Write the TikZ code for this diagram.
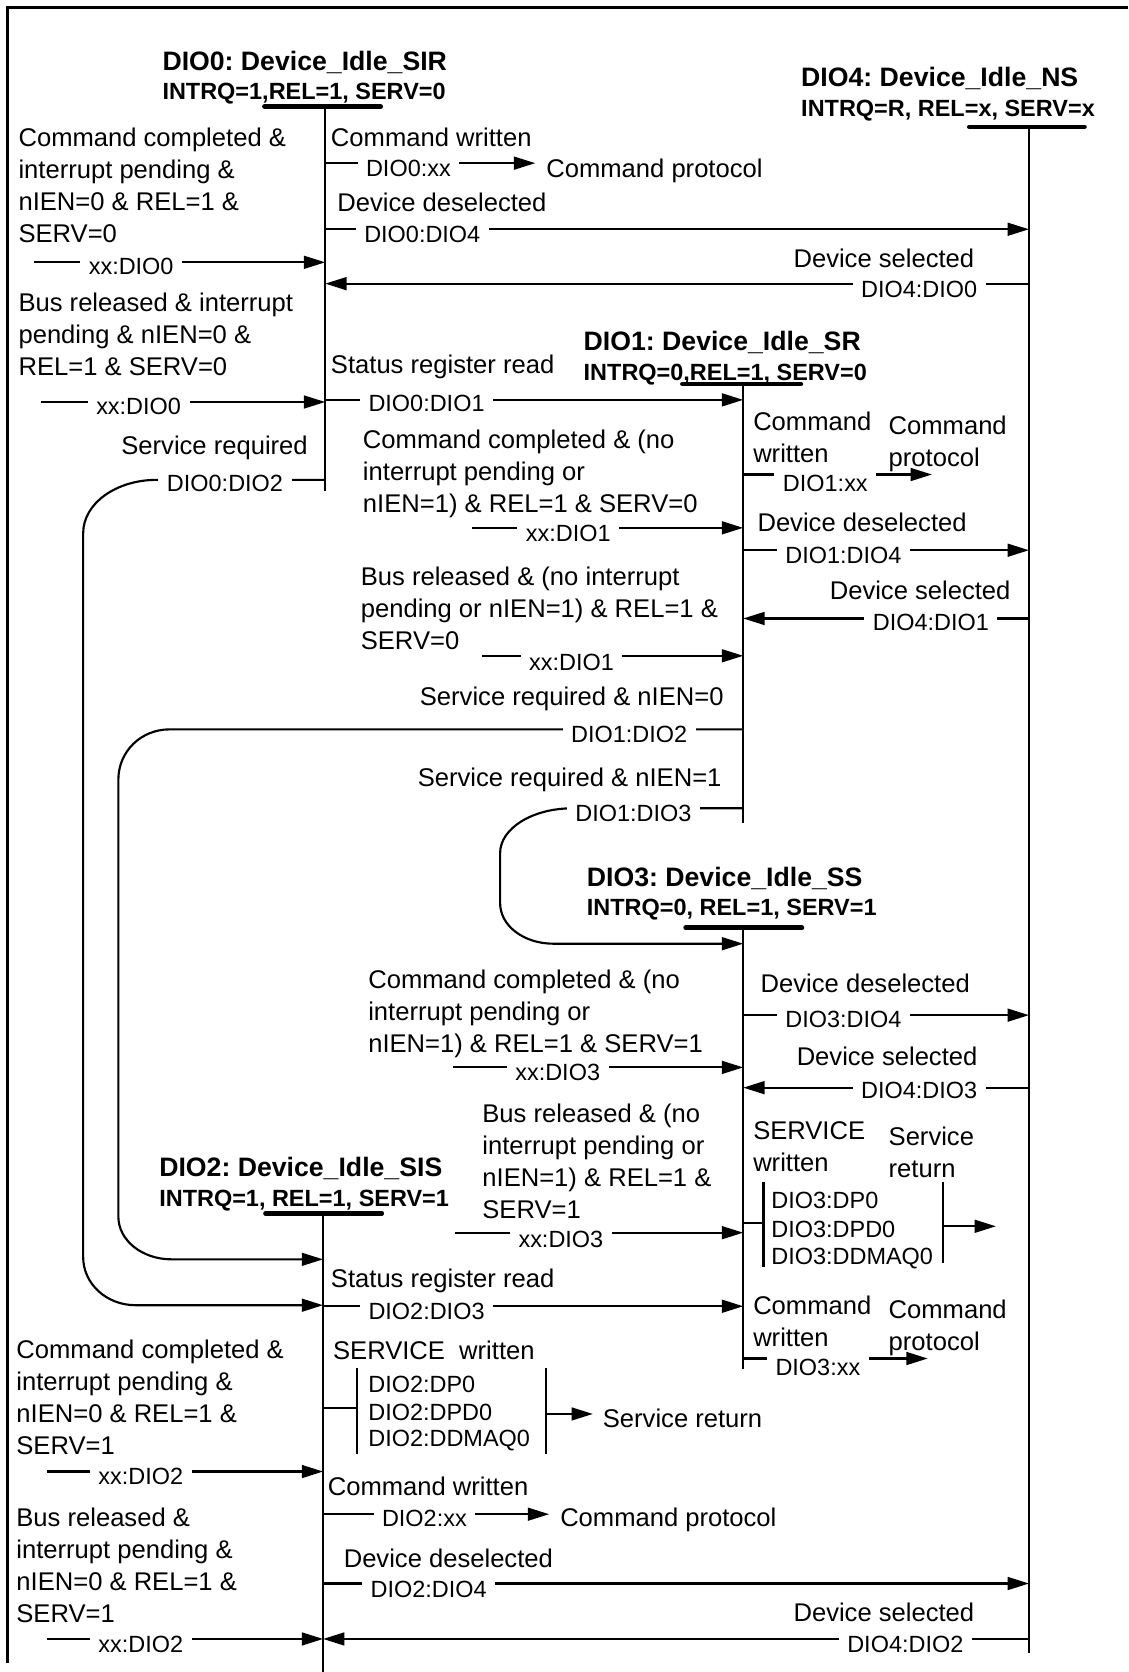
\documentclass[tikz,border=0pt]{standalone}
\usepackage{fontspec}
\setmainfont{Liberation Sans}
\usetikzlibrary{arrows.meta}
\frenchspacing

\tikzset{
  txt/.style={font=\fontsize{12}{15}\selectfont, inner sep=0pt, align=left},
  ttl/.style={font=\bfseries\fontsize{12.5}{15}\selectfont, inner sep=0pt, anchor=base west},
  cnd/.style={font=\bfseries\fontsize{11}{13}\selectfont, inner sep=0pt, anchor=base west},
  lbl/.style={font=\fontsize{11}{13}\selectfont, fill=white, inner xsep=4pt, inner ysep=2pt},
  sub/.style={font=\fontsize{11}{13}\selectfont, inner sep=0pt, anchor=west},
  life/.style={line width=1.15pt},
  bar/.style={line width=2.2pt, line cap=round},
  msg/.style={line width=1pt},
}

\begin{document}
\begin{tikzpicture}[>={Triangle[length=10pt,width=6pt]}, x=0.5pt, y=-0.5pt]
\useasboundingbox (0,0) rectangle (1058,1568);

% --- frame ---------------------------------------------------------
\draw[life] (7,1560) -- (7,7) -- (1058,7);

% === states =======================================================
% DIO0
\node[ttl] (h0) at (152,66) {DIO0: Device\_Idle\_SIR};
\node[cnd] (c0) at (152,93) {INTRQ=1,REL=1, SERV=0};
\draw[bar] (248,100) -- (357,100);
\coordinate (d0) at (305,100);
\draw[life] (d0) -- (305,460);

% DIO4
\node[ttl] (h4) at (751,81) {DIO4: Device\_Idle\_NS};
\node[cnd] (c4) at (751,109) {INTRQ=R, REL=x, SERV=x};
\draw[bar] (909,119) -- (1017,119);
\coordinate (d4) at (965,119);
\draw[life] (d4) -- (965,1550);

% DIO1
\node[ttl] (h1) at (547,329) {DIO1: Device\_Idle\_SR};
\node[cnd] (c1) at (547,357) {INTRQ=0,REL=1, SERV=0};
\draw[bar] (640,360) -- (751,360);
\coordinate (d1) at (697,360);
\draw[life] (d1) -- (697,772);

% DIO3
\node[ttl] (h3) at (550,831) {DIO3: Device\_Idle\_SS};
\node[cnd] (c3) at (550,859) {INTRQ=0, REL=1, SERV=1};
\draw[bar] (643,870) -- (752,870);
\coordinate (d3) at (697,870);
\draw[life] (d3) -- (697,1284);

% DIO2
\node[ttl] (h2) at (149,1103) {DIO2: Device\_Idle\_SIS};
\node[cnd] (c2) at (149,1131) {INTRQ=1, REL=1, SERV=1};
\draw[bar] (249,1138) -- (358,1138);
\coordinate (d2) at (303,1138);
\draw[life] (d2) -- (303,1568);

% === transitions of DIO0 ==========================================
\node[txt, anchor=north west] (t01) at (17,120) {Command completed \&\\interrupt pending \&\\nIEN=0 \& REL=1 \&\\SERV=0};
\draw[msg,->] (32,246) coordinate (f1) -- (f1 -| d0);
\node[lbl] (l01) at (123,250) {xx:DIO0};

\node[txt, anchor=north west] (t02) at (17,274) {Bus released \& interrupt\\pending \& nIEN=0 \&\\REL=1 \& SERV=0};
\draw[msg,->] (38,377) coordinate (f2) -- (f2 -| d0);
\node[lbl] (l02) at (130,381) {xx:DIO0};

\node[txt, anchor=base west] (t03) at (310,137) {Command written};
\draw[msg,->] (d0 |- 0,153) -- (502,153) coordinate (p0);
\node[lbl] (l03) at (383,158) {DIO0:xx};
\node[txt, anchor=base west] (t04) at (512,166) {Command protocol};

\node[txt, anchor=base west] (t05) at (316,198) {Device deselected};
\draw[msg,->] (d0 |- 0,215) -- (d4 |- 0,215);
\node[lbl] (l04) at (396,220) {DIO0:DIO4};

\node[txt, anchor=base east] (t06) at (914,251) {Device selected};
\draw[msg,->] (d4 |- 0,266) -- (d0 |- 0,266);
\node[lbl] (l05) at (862,271) {DIO4:DIO0};

\node[txt, anchor=base west] (t07) at (310,350) {Status register read};
\draw[msg,->] (d0 |- 0,375) -- (d1 |- 0,375);
\node[lbl] (l06) at (400,378) {DIO0:DIO1};

\node[txt, anchor=base east] (t08) at (289,426) {Service required};
\draw[msg,->] (d0 |- 0,450) -- (147,450) .. controls (109,450) and (78,472) .. (78,500)
  -- (78,1179) .. controls (78,1204) and (100,1224) .. (127,1224) -- (d2 |- 0,1224);
\node[lbl] (l07) at (211,453) {DIO0:DIO2};

% === transitions of DIO1 ==========================================
\node[txt, anchor=north west] (t11) at (340,403) {Command completed \& (no\\interrupt pending or\\nIEN=1) \& REL=1 \& SERV=0};
\draw[msg,->] (443,495) coordinate (f3) -- (f3 -| d1);
\node[lbl] (l11) at (533,500) {xx:DIO1};

\node[txt, anchor=north west] (t12) at (338,531) {Bus released \& (no interrupt\\pending or nIEN=1) \& REL=1 \&\\SERV=0};
\draw[msg,->] (452,615) coordinate (f4) -- (f4 -| d1);
\node[lbl] (l12) at (536,621) {xx:DIO1};

\node[txt, anchor=base east] (t13) at (679,662) {Service required \& nIEN=0};
\draw[msg,->] (d1 |- 0,684) -- (159,684) .. controls (132,684) and (111,705) .. (111,731)
  -- (111,1141) .. controls (111,1163) and (133,1181) .. (161,1181) -- (d2 |- 0,1181);
\node[lbl] (l13) at (590,689) {DIO1:DIO2};

\node[txt, anchor=base east] (t14) at (677,738) {Service required \& nIEN=1};
\draw[msg,->] (d1 |- 0,758) -- (537,758) .. controls (499,758) and (469,777) .. (469,800)
  -- (469,847) .. controls (469,868) and (491,885) .. (519,885) -- (d3 |- 0,885);
\node[lbl] (l14) at (594,763) {DIO1:DIO3};

\node[txt, anchor=north west] (t15) at (706,386) {Command\\written};
\node[txt, anchor=north west] (t16) at (833,390) {Command\\protocol};
\draw[msg,->] (d1 |- 0,445) -- (874,445) coordinate (p1);
\node[lbl] (l15) at (774,453) {DIO1:xx};

\node[txt, anchor=base west] (t17) at (710,498) {Device deselected};
\draw[msg,->] (d1 |- 0,516) -- (d4 |- 0,516);
\node[lbl] (l16) at (791,521) {DIO1:DIO4};

\node[txt, anchor=base east] (t18) at (948,562) {Device selected};
\draw[msg,->] (d4 |- 0,580) -- (d1 |- 0,580);
\node[lbl] (l17) at (873,584) {DIO4:DIO1};

% === transitions of DIO3 ==========================================
\node[txt, anchor=north west] (t31) at (345,909) {Command completed \& (no\\interrupt pending or\\nIEN=1) \& REL=1 \& SERV=1};
\draw[msg,->] (425,1001) coordinate (f5) -- (f5 -| d3);
\node[lbl] (l31) at (523,1006) {xx:DIO3};

\node[txt, anchor=north west] (t32) at (452,1035) {Bus released \& (no\\interrupt pending or\\nIEN=1) \& REL=1 \&\\SERV=1};
\draw[msg,->] (427,1156) coordinate (f6) -- (f6 -| d3);
\node[lbl] (l32) at (526,1162) {xx:DIO3};

\node[txt, anchor=base west] (t33) at (713,931) {Device deselected};
\draw[msg,->] (d3 |- 0,952) -- (d4 |- 0,952);
\node[lbl] (l33) at (791,956) {DIO3:DIO4};

\node[txt, anchor=base east] (t34) at (917,999) {Device selected};
\draw[msg,->] (d4 |- 0,1020) -- (d3 |- 0,1020);
\node[lbl] (l34) at (862,1023) {DIO4:DIO3};

\node[txt, anchor=north west] (t35) at (706,1051) {SERVICE\\written};
\node[txt, anchor=north west] (t36) at (833,1056) {Service\\return};
\draw[msg] (d3 |- 0,1147) -- (716,1147);
\draw[msg] (716,1108) -- (716,1188);
\node[sub] (s31) at (723,1126) {DIO3:DP0};
\node[sub] (s32) at (723,1153) {DIO3:DPD0};
\node[sub] (s33) at (723,1180) {DIO3:DDMAQ0};
\draw[msg] (884,1108) -- (884,1184);
\draw[msg,->] (884,1150) -- (934,1150);

\node[txt, anchor=north west] (t37) at (706,1215) {Command\\written};
\node[txt, anchor=north west] (t38) at (833,1219) {Command\\protocol};
\draw[msg,->] (d3 |- 0,1274) -- (870,1274) coordinate (p3);
\node[lbl] (l35) at (767,1282) {DIO3:xx};

% === transitions of DIO2 ==========================================
\node[txt, anchor=north west] (t21) at (15,1256) {Command completed \&\\interrupt pending \&\\nIEN=0 \& REL=1 \&\\SERV=1};
\draw[msg,->] (44,1380) coordinate (f7) -- (f7 -| d2);
\node[lbl] (l21) at (132,1385) {xx:DIO2};

\node[txt, anchor=north west] (t22) at (15,1414) {Bus released \&\\interrupt pending \&\\nIEN=0 \& REL=1 \&\\SERV=1};
\draw[msg,->] (44,1537) coordinate (f8) -- (f8 -| d2);
\node[lbl] (l22) at (132,1542) {xx:DIO2};

\node[txt, anchor=base west] (t23) at (310,1207) {Status register read};
\draw[msg,->] (d2 |- 0,1225) -- (d3 |- 0,1225);
\node[lbl] (l23) at (400,1230) {DIO2:DIO3};

\node[txt, anchor=base west] (t24) at (312,1275) {SERVICE\ \ written};
\draw[msg] (d2 |- 0,1320) -- (335,1320);
\draw[msg] (335,1283) -- (335,1364);
\node[sub] (s21) at (345,1298) {DIO2:DP0};
\node[sub] (s22) at (345,1325) {DIO2:DPD0};
\node[sub] (s23) at (345,1351) {DIO2:DDMAQ0};
\draw[msg] (512,1283) -- (512,1364);
\draw[msg,->] (512,1326) -- (556,1326);
\node[txt, anchor=base west] (t25) at (565,1339) {Service return};

\node[txt, anchor=base west] (t26) at (307,1402) {Command written};
\draw[msg,->] (d2 |- 0,1420) -- (515,1420) coordinate (p2);
\node[lbl] (l24) at (398,1424) {DIO2:xx\hspace{12pt}};
\node[txt, anchor=base west] (t27) at (525,1432) {Command protocol};

\node[txt, anchor=base west] (t28) at (322,1470) {Device deselected};
\draw[msg,->] (d2 |- 0,1485) -- (d4 |- 0,1485);
\node[lbl] (l25) at (402,1491) {DIO2:DIO4};

\node[txt, anchor=base east] (t29) at (914,1521) {Device selected};
\draw[msg,->] (d4 |- 0,1537) -- (d2 |- 0,1537);
\node[lbl] (l26) at (849,1542) {DIO4:DIO2};

\end{tikzpicture}
\end{document}
